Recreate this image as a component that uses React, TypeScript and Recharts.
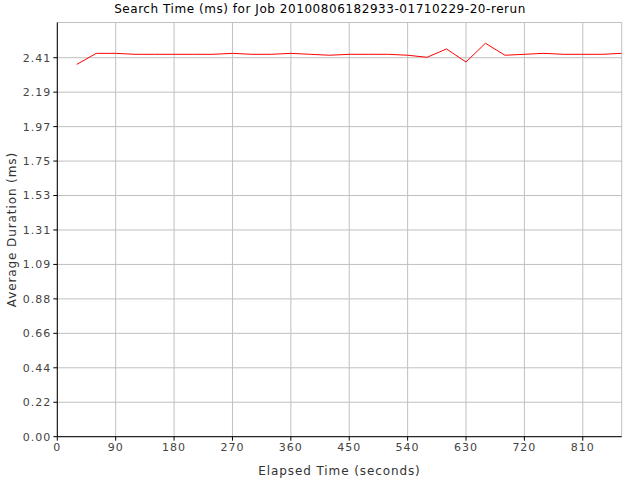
import { LineChart, Line, XAxis, YAxis, CartesianGrid, Label } from 'recharts'

// elapsed seconds of each sample
const times = [
  30, 60, 90, 120, 150, 180, 210, 240, 270, 300, 330, 360, 390, 420, 450,
  480, 510, 540, 570, 600, 630, 660, 690, 720, 750, 780, 810, 840, 870,
]

// average search duration (ms) per sample
const durations = [
  2.365, 2.435, 2.435, 2.429, 2.429, 2.429, 2.429, 2.429, 2.435, 2.429,
  2.429, 2.435, 2.429, 2.423, 2.429, 2.429, 2.429, 2.423, 2.41, 2.463,
  2.38, 2.499, 2.423, 2.429, 2.435, 2.429, 2.429, 2.429, 2.435,
]

const xTicks = [0, 90, 180, 270, 360, 450, 540, 630, 720, 810]
const yTicks = [
  0, 0.21885, 0.4377, 0.65655, 0.8754, 1.09425, 1.3131, 1.53195, 1.7508,
  1.96965, 2.1885, 2.40735,
]

const data = times.map((t, i) => ({ t, avg: durations[i] }))

const tickStyle = { fontFamily: 'DejaVu Sans', fontSize: 11, fill: '#444', letterSpacing: 1 }
const labelStyle = { fontFamily: 'DejaVu Sans', fontSize: 12, fill: '#333', letterSpacing: 0.9 }

export default function App() {
  return (
    <div style={{ position: 'fixed', left: 0, top: 0, width: 640, height: 480, background: '#fff' }}>
      <div
        style={{
          position: 'absolute',
          top: 2,
          left: 0,
          width: 640,
          textAlign: 'center',
          fontFamily: 'DejaVu Sans',
          fontSize: 12,
          letterSpacing: 0.55,
          color: '#000',
        }}
      >
        Search Time (ms) for Job 20100806182933-01710229-20-rerun
      </div>
      <LineChart
        width={640}
        height={480}
        data={data}
        margin={{ top: 22.5, right: 18.3, bottom: 0, left: 0 }}
      >
        <CartesianGrid stroke="#c0c0c0" />
        <XAxis
          type="number"
          dataKey="t"
          domain={[0, 870]}
          ticks={xTicks}
          height={43.3}
          tickSize={4}
          tick={tickStyle}
          stroke="#000"
          tickLine={{ stroke: '#000' }}
          allowDataOverflow
        >
          <Label value="Elapsed Time (seconds)" position="insideBottom" offset={5} style={labelStyle} />
        </XAxis>
        <YAxis
          type="number"
          domain={[0, 2.631]}
          ticks={yTicks}
          width={57.3}
          tickSize={4}
          tick={tickStyle}
          stroke="#000"
          tickLine={{ stroke: '#000' }}
          tickFormatter={(v: number) => v.toFixed(2)}
          allowDataOverflow
        >
          <Label
            value="Average Duration (ms)"
            angle={-90}
            position="insideLeft"
            offset={12}
            style={{ ...labelStyle, textAnchor: 'middle' }}
          />
        </YAxis>
        <Line
          type="linear"
          dataKey="avg"
          stroke="#ff0000"
          strokeWidth={1}
          dot={false}
          isAnimationActive={false}
        />
      </LineChart>
    </div>
  )
}
